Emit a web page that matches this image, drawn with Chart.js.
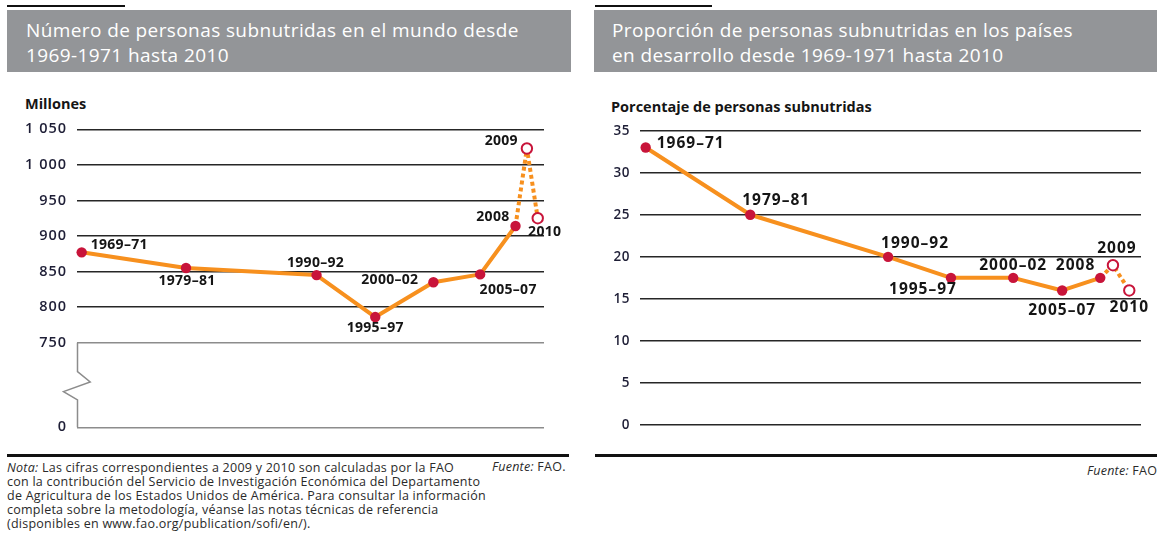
<!DOCTYPE html>
<html><head><meta charset="utf-8">
<script src="https://cdn.jsdelivr.net/npm/chart.js@4"></script>
<style>
html,body{margin:0;padding:0;background:#fff;width:1157px;height:536px;overflow:hidden;font-family:"Open Sans",sans-serif;}
.rule{position:absolute;background:#111;}
.head{position:absolute;top:10px;height:62px;box-sizing:border-box;background:#939598;color:#fff;font-size:19px;letter-spacing:0.4px;line-height:25px;padding:7.5px 0 0 19px;white-space:nowrap;overflow:hidden;}
.ytitle{position:absolute;font-weight:700;font-size:14.5px;color:#151515;white-space:nowrap;line-height:18px;}
.note{position:absolute;left:7px;top:461px;font-size:12.5px;letter-spacing:0.25px;line-height:14px;color:#2a2a2a;white-space:nowrap;}
.src{position:absolute;font-size:12.5px;letter-spacing:0.25px;line-height:14px;color:#2a2a2a;white-space:nowrap;}
.box{position:absolute;}
</style></head>
<body>
<div class="rule" style="left:7px;top:5px;width:118px;height:2px"></div>
<div class="rule" style="left:595px;top:5px;width:117px;height:2px"></div>
<div class="head" style="left:7px;width:564px">Número de personas subnutridas en el mundo desde<br>1969-1971 hasta 2010</div>
<div class="head" style="left:594px;width:563px;padding-left:18px">Proporción de personas subnutridas en los países<br>en desarrollo desde 1969-1971 hasta 2010</div>
<div class="ytitle" style="left:25px;top:95px">Millones</div>
<div class="ytitle" style="left:611px;top:98px">Porcentaje de personas subnutridas</div>
<div class="box" style="left:0;top:90px;width:580px;height:360px"><canvas id="c1" width="580" height="360"></canvas></div>
<div class="box" style="left:580px;top:90px;width:577px;height:360px"><canvas id="c2" width="577" height="360"></canvas></div>
<div class="rule" style="left:7px;top:454px;width:562px;height:3px"></div>
<div class="rule" style="left:595px;top:454px;width:562px;height:3px"></div>
<div class="note"><i>Nota:</i> Las cifras correspondientes a 2009 y 2010 son calculadas por la FAO<br>con la contribución del Servicio de Investigación Económica del Departamento<br>de Agricultura de los Estados Unidos de América. Para consultar la información<br>completa sobre la metodología, véanse las notas técnicas de referencia<br>(disponibles en www.fao.org/publication/sofi/en/).</div>
<div class="src" style="left:492px;top:460px"><i>Fuente:</i> FAO.</div>
<div class="src" style="left:1087px;top:464px"><i>Fuente:</i> FAO.</div>
<script>
// ---- data ----
const periods = ['1969–71','1979–81','1990–92','1995–97','2000–02','2005–07','2008','2009','2010'];
// horizontal time positions of each period
const worldPos = [1970, 1979.15, 1990.6, 1995.75, 2000.85, 2004.95, 2008.05, 2009.05, 2010];
const sharePos = [1970, 1978.65, 1990.05, 1995.25, 2000.4, 2004.45, 2007.6, 2008.65, 2010];
// values
const worldMillions = [877, 855, 845, 786, 835, 846, 914, 1023, 925];
const sharePct = [33, 25, 20, 17.5, 17.5, 16, 17.5, 19, 16];
// 2009 and 2010 are estimates (index from which points are estimated)
const firstEstimate = 7;
// axis ticks
const worldBreakBase = 631; // axis position where the broken axis shows "0"
const worldTickValues = [worldBreakBase, 750, 800, 850, 900, 950, 1000, 1050];
const worldTickLabels = ['0', '750', '800', '850', '900', '950', '1 000', '1 050'];
const shareTickValues = [0, 5, 10, 15, 20, 25, 30, 35];
const shareTickLabels = ['0', '5', '10', '15', '20', '25', '30', '35'];

// ---- styles ----
const ORANGE = '#f7901e', RED = '#c8143a', DARK = '#262626', GRAYL = '#8c8c8c', TICK = '#1e1e36';
const FONT = '"Open Sans", sans-serif';

const spacingPlugin = {
  id: 'textSpacing',
  beforeDraw(chart, args, opts) { chart.ctx.letterSpacing = opts.ticks || '0px'; }
};

const labelPlugin = {
  id: 'pointLabels',
  afterDatasetsDraw(chart, args, opts) {
    const ctx = chart.ctx, meta = chart.getDatasetMeta(0);
    ctx.save();
    ctx.letterSpacing = opts.spacing;
    ctx.font = `bold ${opts.size}px ${FONT}`;
    ctx.fillStyle = '#151515';
    ctx.textBaseline = 'middle';
    meta.data.forEach((pt, i) => {
      const p = opts.place[i];
      ctx.textAlign = p[0];
      ctx.fillText(opts.texts[i], pt.x + p[1], pt.y + p[2]);
    });
    ctx.restore();
  }
};

const breakPlugin = {
  id: 'axisBreak',
  afterDraw(chart, args, opts) {
    if (!opts.on) return;
    const ctx = chart.ctx, y = chart.scales.y;
    const x0 = chart.chartArea.left + 0.5;
    const yt = y.getPixelForValue(750), yb = y.getPixelForValue(worldBreakBase);
    const h = yb - yt;
    ctx.save();
    ctx.strokeStyle = GRAYL; ctx.lineWidth = 1.5;
    ctx.beginPath();
    ctx.moveTo(x0, yt);
    ctx.lineTo(x0, yt + h * 0.343);
    ctx.lineTo(x0 + 12.7, yt + h * 0.465);
    ctx.lineTo(x0 - 14, yt + h * 0.579);
    ctx.lineTo(x0, yt + h * 0.677);
    ctx.lineTo(x0, yb);
    ctx.stroke();
    ctx.restore();
  }
};

function dataset(xs, ys) {
  return {
    data: xs.map((x, i) => ({x, y: ys[i]})),
    borderColor: ORANGE, borderWidth: 4, tension: 0, clip: false,
    borderJoinStyle: 'bevel',
    segment: { borderDash: c => c.p1DataIndex >= firstEstimate ? [4, 3] : undefined },
    pointRadius: 5.2,
    pointBackgroundColor: c => c.dataIndex >= firstEstimate ? '#fff' : RED,
    pointBorderColor: RED,
    pointBorderWidth: c => c.dataIndex >= firstEstimate ? 2 : 0
  };
}

function makeChart(id, cfg) {
  return new Chart(document.getElementById(id), {
    type: 'line',
    data: { datasets: [dataset(cfg.xs, cfg.ys)] },
    options: {
      responsive: false, animation: false, events: [],
      layout: { padding: cfg.padding },
      plugins: {
        legend: { display: false }, tooltip: { enabled: false },
        pointLabels: { texts: periods, place: cfg.place, size: cfg.labelSize, spacing: cfg.labelSpacing },
        axisBreak: { on: cfg.brk },
        textSpacing: { ticks: cfg.tickSpacing }
      },
      scales: {
        x: { type: 'linear', display: false, min: cfg.xmin, max: cfg.xmax },
        y: {
          min: cfg.tickValues[0], max: cfg.tickValues[cfg.tickValues.length - 1],
          afterBuildTicks: s => { s.ticks = cfg.tickValues.map(v => ({value: v})); },
          afterFit: s => { s.width = cfg.axisWidth; },
          border: { display: false },
          grid: { drawTicks: false, lineWidth: 1.6, color: c => cfg.gridColor(c.tick ? c.tick.value : 0) },
          ticks: {
            padding: 10, color: TICK,
            font: { family: FONT, size: cfg.tickSize, weight: '600' },
            callback: v => cfg.tickLabels[cfg.tickValues.indexOf(v)]
          }
        }
      }
    },
    plugins: [spacingPlugin, labelPlugin, breakPlugin]
  });
}

makeChart('c1', {
  xs: worldPos, ys: worldMillions, xmin: 1969.59, xmax: 2010.55,
  tickValues: worldTickValues, tickLabels: worldTickLabels, tickSize: 14.5, tickSpacing: '1px',
  axisWidth: 77, padding: { left: 0, right: 36, top: 39.3, bottom: 22.7 },
  gridColor: v => v <= 750 ? GRAYL : DARK, brk: true, labelSize: 14, labelSpacing: '0.3px',
  place: [['left',9,-7],['center',1,13],['center',-1,-12],['center',0,11],['right',-15,-2],
          ['center',28,16],['right',-6,-9],['right',-9,-7],['center',7,14]]
});

makeChart('c2', {
  xs: sharePos, ys: sharePct, xmin: 1969.53, xmax: 2010.97,
  tickValues: shareTickValues, tickLabels: shareTickLabels, tickSize: 13.5, tickSpacing: '0.5px',
  axisWidth: 60, padding: { left: 0, right: 16, top: 40.7, bottom: 25 },
  gridColor: v => DARK, brk: false, labelSize: 15.5, labelSpacing: '1px',
  place: [['left',11,-4],['left',-8,-14],['left',-7,-13],['right',6,12],['center',0,-12],
          ['center',0,20],['right',-5,-12],['center',4,-17],['center',0,17]]
});
</script>
</body></html>
